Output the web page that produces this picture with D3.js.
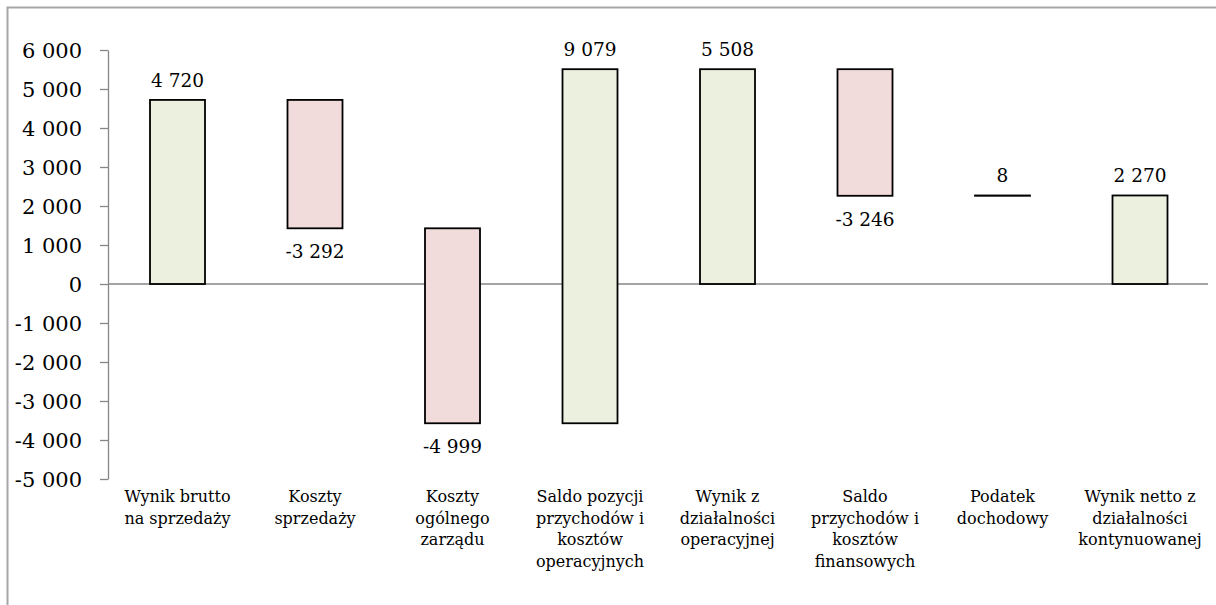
<!DOCTYPE html>
<html>
<head>
<meta charset="utf-8">
<script src="https://cdn.jsdelivr.net/npm/d3@7"></script>
<style>
  body { margin: 0; background: #fff; }
  svg { display: block; }
</style>
</head>
<body>
<div id="chart_area"></div>
<script>
// data
var categories = [
    ["Wynik brutto", "na sprzedaży"],
    ["Koszty", "sprzedaży"],
    ["Koszty", "ogólnego", "zarządu"],
    ["Saldo pozycji", "przychodów i", "kosztów", "operacyjnych"],
    ["Wynik z", "działalności", "operacyjnej"],
    ["Saldo", "przychodów i", "kosztów", "finansowych"],
    ["Podatek", "dochodowy"],
    ["Wynik netto z", "działalności", "kontynuowanej"]
];
var values = [4720, -3292, -4999, 9079, 5508, -3246, 8, 2270];
var isTotal = [true, false, false, false, true, false, false, true];
var yTicks = [-5000, -4000, -3000, -2000, -1000, 0, 1000, 2000, 3000, 4000, 5000, 6000];

var width = 1216, height = 605;

var svG = d3.select("#chart_area")
    .append("svg")
    .attr("width", width)
    .attr("height", height)
    .attr("font-family", "'DejaVu Serif', serif");

// outer chart frame (runs off the right and bottom edges)
svG.append("rect")
    .attr("x", 7.5)
    .attr("y", 7.5)
    .attr("width", 1230)
    .attr("height", 620)
    .attr("fill", "none")
    .attr("stroke", "#a6a6a6")
    .attr("stroke-width", 2);

// waterfall start / end for each bar
var running = 0;
var bars = values.map(function(v, i) {
    var start, end;
    if (isTotal[i]) { start = 0; end = v; }
    else { start = running; end = running + v; }
    running = end;
    return {i: i, value: v, start: start, end: end, total: isTotal[i]};
});

var xPosition = d3.scaleBand()
    .domain(d3.range(categories.length))
    .range([108.75, 1208.75])
    .paddingInner(0.6)
    .paddingOuter(0.3);

var yPosition = d3.scaleLinear()
    .domain([-5000, 6000])
    .range([479, 50]);

var loc = d3.formatLocale({decimal: ",", thousands: " ", grouping: [3], currency: ["", ""], minus: "-"});
var fmt = loc.format(",d");

// y axis
var yAxis = svG.append("g")
    .attr("transform", "translate(108,0)")
    .call(d3.axisLeft(yPosition).tickValues(yTicks).tickFormat(fmt).tickSize(8).tickPadding(18).tickSizeOuter(0));
yAxis.select(".domain").attr("stroke", "#868686").attr("stroke-width", 1.3);
yAxis.selectAll(".tick line").attr("stroke", "#868686").attr("stroke-width", 1.3);
yAxis.selectAll(".tick text")
    .attr("fill", "#000")
    .attr("font-size", 21)
    .attr("font-family", "'DejaVu Serif', serif")
    .attr("x", -26)
    .attr("dy", "0.35em");

// zero line
svG.append("line")
    .attr("x1", 108)
    .attr("x2", 1208)
    .attr("y1", yPosition(0))
    .attr("y2", yPosition(0))
    .attr("stroke", "#868686")
    .attr("stroke-width", 1.5);

// bars
svG.selectAll("rect.bar")
    .data(bars)
    .enter()
    .append("rect")
    .attr("class", "bar")
    .attr("x", d => xPosition(d.i))
    .attr("width", xPosition.bandwidth())
    .attr("y", d => yPosition(Math.max(d.start, d.end)))
    .attr("height", d => Math.abs(yPosition(d.start) - yPosition(d.end)))
    .attr("fill", d => d.value >= 0 ? "#ebf1de" : "#f2dcdb")
    .attr("stroke", "#000")
    .attr("stroke-width", 1.8);

// value labels
svG.selectAll("text.val")
    .data(bars)
    .enter()
    .append("text")
    .attr("class", "val")
    .attr("x", d => xPosition(d.i) + xPosition.bandwidth() / 2)
    .attr("y", function(d) {
        if (d.value >= 0) return yPosition(Math.max(d.start, d.end)) - 13;
        return yPosition(Math.min(d.start, d.end)) + 30;
    })
    .attr("text-anchor", "middle")
    .attr("font-size", 18.5)
    .attr("fill", "#000")
    .text(d => fmt(d.value));

// category labels
var catG = svG.selectAll("text.cat")
    .data(categories)
    .enter()
    .append("text")
    .attr("class", "cat")
    .attr("text-anchor", "middle")
    .attr("font-size", 16)
    .attr("fill", "#000");
catG.selectAll("tspan")
    .data((d, i) => d.map(function(t) { return {t: t, i: i}; }))
    .enter()
    .append("tspan")
    .attr("x", d => xPosition(d.i) + xPosition.bandwidth() / 2)
    .attr("y", (d, j) => 502 + j * 21.7)
    .text(d => d.t);
</script>
</body>
</html>
